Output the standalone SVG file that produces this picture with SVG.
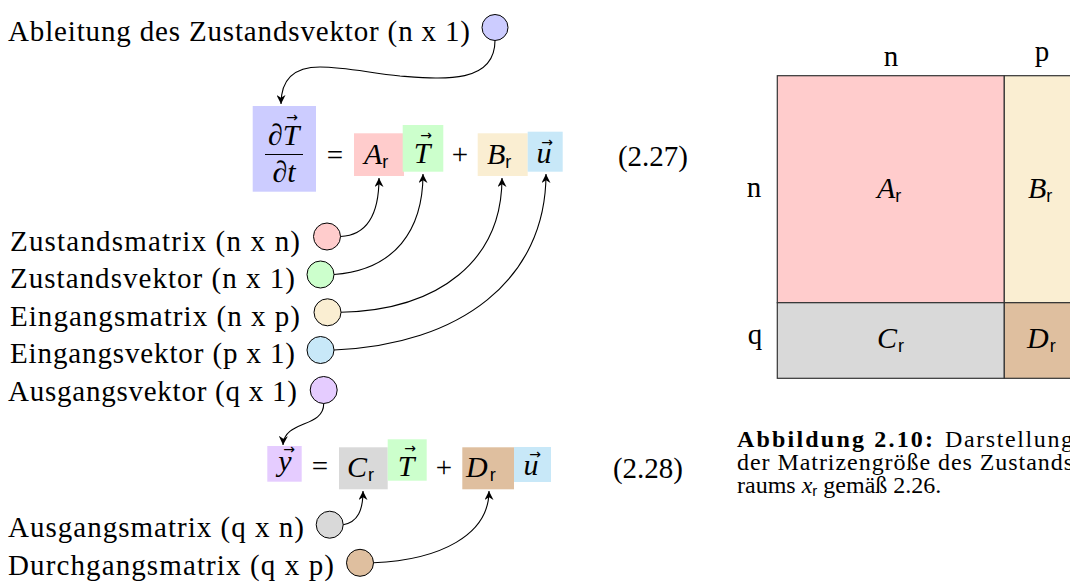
<svg xmlns="http://www.w3.org/2000/svg" width="1070" height="583" viewBox="0 0 1070 583">
<defs>
<marker id="arr" viewBox="0 0 10 10" refX="10" refY="5" markerWidth="9" markerHeight="9" orient="auto" markerUnits="userSpaceOnUse">
<path d="M0,0 L10,5 L0,10 L3,5 z" fill="#000"/>
</marker>
</defs>
<style>
.lbl{font-family:"Liberation Serif",serif;font-size:29px;fill:#000}
.m{font-family:"Liberation Serif",serif;font-style:italic;font-size:30px;fill:#000}
.rm{font-family:"Liberation Serif",serif;font-size:29px;fill:#000}
.sub{font-family:"Liberation Sans",sans-serif;font-style:normal;font-size:18px}
.vec{font-family:"DejaVu Sans",sans-serif;font-size:14px;fill:#000}
.cap{font-family:"Liberation Serif",serif;font-size:24px;fill:#000}
.dot{stroke:#000;stroke-width:1}
.con{fill:none;stroke:#000;stroke-width:1.1;marker-end:url(#arr)}
.cell{stroke:#333;stroke-width:1.2}
</style>

<g id="eq1">
<rect x="252.7" y="106" width="63.3" height="85.7" fill="#ccccff"/>
<text class="m" x="268" y="145">∂<tspan>T</tspan></text>
<text class="vec" x="292" y="122" text-anchor="middle">→</text>
<line x1="265" y1="154.5" x2="303" y2="154.5" stroke="#000" stroke-width="1"/>
<text class="m" x="284" y="182" text-anchor="middle">∂t</text>
<text class="rm" x="335" y="165" text-anchor="middle">=</text>
<rect x="354" y="133.3" width="50" height="42.7" fill="#ffcccc"/>
<text class="m" x="364" y="164">A<tspan class="sub" dy="4">r</tspan></text>
<rect x="402.7" y="125" width="40.6" height="46.7" fill="#ccffcc"/>
<text class="m" x="422" y="163" text-anchor="middle">T</text>
<text class="vec" x="426" y="140" text-anchor="middle">→</text>
<text class="rm" x="460" y="164" text-anchor="middle">+</text>
<rect x="477.7" y="133.3" width="50" height="42.7" fill="#faeed2"/>
<text class="m" x="487" y="164">B<tspan class="sub" dy="4">r</tspan></text>
<rect x="527.7" y="131.7" width="35" height="40" fill="#c8e8f8"/>
<text class="m" x="544" y="163" text-anchor="middle">u</text>
<text class="vec" x="547" y="147" text-anchor="middle">→</text>
<text class="rm" x="653" y="166" text-anchor="middle">(2.27)</text>
</g>

<g id="eq2">
<rect x="267.3" y="446" width="34.4" height="35.7" fill="#e5ccff"/>
<text class="m" x="285" y="471" text-anchor="middle">y</text>
<text class="vec" x="289" y="454" text-anchor="middle">→</text>
<text class="rm" x="320" y="476" text-anchor="middle">=</text>
<rect x="339" y="447.3" width="48.7" height="42" fill="#d9d9d9"/>
<text class="m" x="347" y="477">C<tspan class="sub" dy="4" dx="1">r</tspan></text>
<rect x="387.7" y="439.3" width="39" height="41.4" fill="#ccffcc"/>
<text class="m" x="406" y="476" text-anchor="middle">T</text>
<text class="vec" x="410" y="453" text-anchor="middle">→</text>
<text class="rm" x="444" y="477" text-anchor="middle">+</text>
<rect x="462.3" y="447.3" width="51.7" height="42" fill="#dfbf9f"/>
<text class="m" x="466" y="477">D<tspan class="sub" dy="4" dx="2">r</tspan></text>
<rect x="514" y="447" width="37" height="35" fill="#c8e8f8"/>
<text class="m" x="531" y="475" text-anchor="middle">u</text>
<text class="vec" x="535" y="459" text-anchor="middle">→</text>
<text class="rm" x="648" y="478" text-anchor="middle">(2.28)</text>
</g>

<g id="n-ableitung">
<text class="lbl" x="8" y="40.5" textLength="462" lengthAdjust="spacing">Ableitung des Zustandsvektor (n x 1)</text>
<circle class="dot" cx="495" cy="27.5" r="13" fill="#ccccff"/>
</g>
<g id="n-zmatrix">
<text class="lbl" x="10" y="250.5" textLength="290" lengthAdjust="spacing">Zustandsmatrix (n x n)</text>
<circle class="dot" cx="327" cy="236.5" r="13.5" fill="#ffcccc"/>
</g>
<g id="n-zvektor">
<text class="lbl" x="10" y="288" textLength="285" lengthAdjust="spacing">Zustandsvektor (n x 1)</text>
<circle class="dot" cx="320.5" cy="274.5" r="13.5" fill="#ccffcc"/>
</g>
<g id="n-ematrix">
<text class="lbl" x="10" y="325.5" textLength="290" lengthAdjust="spacing">Eingangsmatrix (n x p)</text>
<circle class="dot" cx="327.5" cy="312.3" r="13.5" fill="#faeed2"/>
</g>
<g id="n-evektor">
<text class="lbl" x="10" y="363" textLength="285" lengthAdjust="spacing">Eingangsvektor (p x 1)</text>
<circle class="dot" cx="320.5" cy="350" r="13.5" fill="#c8e8f8"/>
</g>
<g id="n-avektor">
<text class="lbl" x="8" y="401" textLength="289" lengthAdjust="spacing">Ausgangsvektor (q x 1)</text>
<circle class="dot" cx="323.7" cy="390" r="13.5" fill="#e5ccff"/>
</g>
<g id="n-amatrix">
<text class="lbl" x="8" y="537" textLength="296" lengthAdjust="spacing">Ausgangsmatrix (q x n)</text>
<circle class="dot" cx="329.7" cy="524.7" r="13.5" fill="#d9d9d9"/>
</g>
<g id="n-dmatrix">
<text class="lbl" x="8" y="575" textLength="326" lengthAdjust="spacing">Durchgangsmatrix (q x p)</text>
<circle class="dot" cx="360" cy="562.8" r="13.5" fill="#dfbf9f"/>
</g>

<g id="connectors">
<path class="con" d="M495,40.5 C495,85 440,79 400,76 C370,73 345,67 320,67 C295,67 281,78 281,104"/>
<path class="con" d="M340.5,236.5 C372,235 379,205 379,178"/>
<path class="con" d="M334,274.5 C395,270 423,230 423,174"/>
<path class="con" d="M341,312.3 C440,310 502,260 502,178"/>
<path class="con" d="M334,350 C460,345 546,280 546,174"/>
<path class="con" d="M323.7,403.5 C324,428 284,420 283,445"/>
<path class="con" d="M343.2,524.7 C358,522 363,510 363,491"/>
<path class="con" d="M373.5,562.8 C440,560 489,535 489,491"/>
</g>

<g id="matrix">
<rect class="cell" x="777.3" y="75.7" width="227" height="227" fill="#ffcccc"/>
<rect class="cell" x="1004.3" y="75.7" width="100" height="227" fill="#faeed2"/>
<rect class="cell" x="777.3" y="302.7" width="227" height="75.6" fill="#d9d9d9"/>
<rect class="cell" x="1004.3" y="302.7" width="100" height="75.6" fill="#dfbf9f"/>
<text class="rm" x="891" y="66" text-anchor="middle">n</text>
<text class="rm" x="1042" y="61" text-anchor="middle">p</text>
<text class="rm" x="754" y="197" text-anchor="middle">n</text>
<text class="rm" x="755" y="344" text-anchor="middle">q</text>
<text class="m" x="877" y="198">A<tspan class="sub" dy="4">r</tspan></text>
<text class="m" x="1028" y="198">B<tspan class="sub" dy="4">r</tspan></text>
<text class="m" x="877" y="348">C<tspan class="sub" dy="4" dx="1">r</tspan></text>
<text class="m" x="1027" y="348">D<tspan class="sub" dy="4" dx="1">r</tspan></text>
</g>

<g id="caption">
<text class="cap" x="737" y="447" font-weight="bold" textLength="196" lengthAdjust="spacing">Abbildung 2.10:</text>
<text class="cap" x="945" y="447" textLength="128" lengthAdjust="spacing">Darstellung</text>
<text class="cap" x="737" y="470" textLength="336" lengthAdjust="spacing">der Matrizengröße des Zustands</text>
<text class="cap" x="737" y="493">raums <tspan font-style="italic">x</tspan><tspan font-family="Liberation Sans,sans-serif" font-size="15" dy="3">r</tspan><tspan dy="-3"> gemäß 2.26.</tspan></text>
</g>
</svg>
